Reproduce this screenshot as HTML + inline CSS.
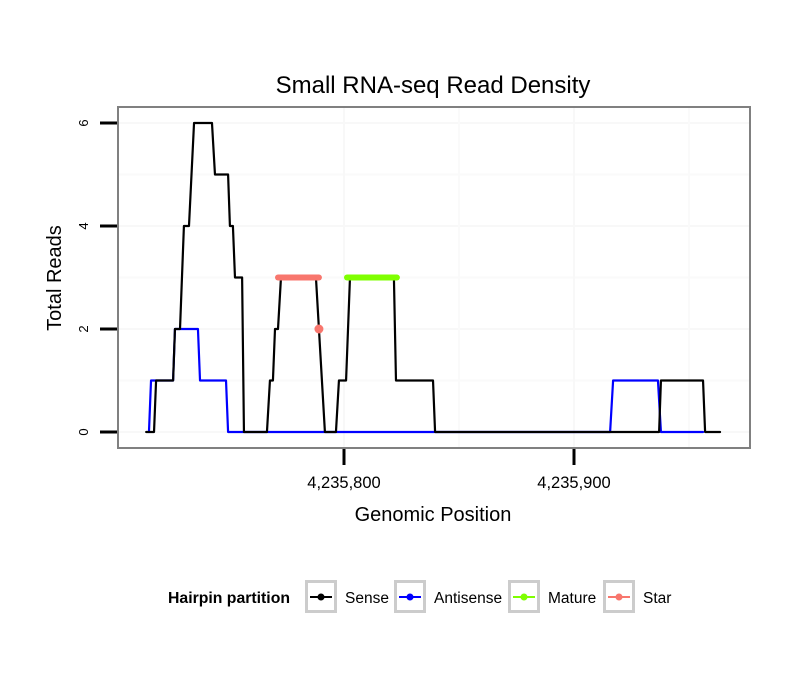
<!DOCTYPE html>
<html><head><meta charset="utf-8"><style>
body{margin:0;background:#fff}
svg text{font-family:"Liberation Sans",sans-serif}
</style></head><body>
<svg id="chart" width="810" height="690">
<text x="433" y="93" font-size="24" text-anchor="middle">Small RNA-seq Read Density</text>
<g id="grid"></g>
<g id="series"></g>
<rect x="118" y="107" width="632" height="341" fill="none" stroke="#808080" stroke-width="2"/>
<g id="axes"></g>
<text x="433" y="521" font-size="20" text-anchor="middle">Genomic Position</text>
<text transform="translate(61,278) rotate(-90)" font-size="20" text-anchor="middle">Total Reads</text>
<text x="168" y="603" font-size="15.8" font-weight="bold">Hairpin partition</text>
<g id="legend"></g>
</svg>
<script>
const B=4235800;
const senseX=[-86,-82.6,-81.7,-74.3,-73.5,-71.3,-69.6,-67.4,-65.2,-57.4,-56.1,-50.4,-49.6,-48.3,-47.4,-44.3,-43.5,-33.5,-32.2,-30.9,-30,-28.7,-27.4,-12.2,-8.3,-3.5,-2.2,0.9,2.6,21.7,22.6,38.7,39.6,137,137.8,156.1,157,163.5];
const senseY=[0,0,1,1,2,2,4,4,6,6,5,5,4,4,3,3,0,0,1,1,2,2,3,3,0,0,1,1,3,3,1,1,0,0,1,1,0,0];
const antiX=[-84.8,-83.9,-74.3,-73.5,-63.5,-62.6,-51.3,-50.4,115.7,117,136.5,137.8,156.1];
const antiY=[0,1,1,2,2,1,1,0,0,1,1,0,0];
const matureX=[1.3,23];
const matureY=[3,3];
const starX=[-28.7,-10.9];
const starY=[3,3];
const starPointX=[-10.9];
const starPointY=[2];
const yTicks=[0,2,4,6];
const xTicks=[100,200];
const xTickLabels=["4,235,800","4,235,900"];
const legendNames=["Sense","Antisense","Mature","Star"];
const legendColors=["#000","#0000ff","#7fff00","#f8766d"];
const sx=v=>344+v*2.3, sy=v=>432-v*51.5;
const NS="http://www.w3.org/2000/svg";
function mk(t,a,p){const e=document.createElementNS(NS,t);for(const k in a)e.setAttribute(k,a[k]);p.appendChild(e);return e;}
const grid=document.getElementById('grid'),ser=document.getElementById('series'),ax=document.getElementById('axes'),lg=document.getElementById('legend');
[1,3,5].forEach(v=>{const l=mk('line',{x1:118,x2:750,y1:sy(v),y2:sy(v),stroke:'#fafafa','stroke-width':2},grid);});
yTicks.forEach(v=>{const l=mk('line',{x1:118,x2:750,y1:sy(v),y2:sy(v),stroke:'#f8f8f8','stroke-width':2},grid);
const t=mk('line',{x1:100,x2:117,y1:sy(v),y2:sy(v),stroke:'#000','stroke-width':3},ax);
const tx=mk('text',{transform:`translate(88,${sy(v)}) rotate(-90)`,'font-size':13,'text-anchor':'middle'},ax);tx.textContent=v;});
[0,50,150].forEach(v=>{const l=mk('line',{y1:107,y2:448,x1:sx(v),x2:sx(v),stroke:'#fafafa','stroke-width':2},grid);});
xTicks.forEach((v,i)=>{const x=sx(v-100);const l=mk('line',{y1:107,y2:448,x1:x,x2:x,stroke:'#f8f8f8','stroke-width':2},grid);
const t=mk('line',{y1:449,y2:465,x1:x,x2:x,stroke:'#000','stroke-width':3},ax);
const tx=mk('text',{x:x,y:488,'font-size':16.5,'text-anchor':'middle'},ax);tx.textContent=xTickLabels[i];});
function line(X,Y,c,w,name){const p=mk('polyline',{points:X.map((x,i)=>sx(x)+','+sy(Y[i])).join(' '),fill:'none',stroke:c,'stroke-width':w,'stroke-linejoin':'round','stroke-linecap':'round'},ser);}
line(antiX,antiY,'#0000ff',2.2,'antisense-line');
line(senseX,senseY,'#000',2.2,'sense-line');
line(starX,starY,'#f8766d',6,'star-segment');
line(matureX,matureY,'#7fff00',6,'mature-segment');
starPointX.forEach((x,i)=>{const c=mk('circle',{cx:sx(x),cy:sy(starPointY[i]),r:4.5,fill:'#f8766d'},ser);});
const bx=[305,394,508,603];
legendNames.forEach((n,i)=>{const g=mk('g',{},lg);
mk('rect',{x:bx[i]+1.5,y:581.5,width:29,height:30,fill:'#fff',stroke:'#cccccc','stroke-width':3},g);
mk('line',{x1:bx[i]+5,x2:bx[i]+27,y1:597,y2:597,stroke:legendColors[i],'stroke-width':2},g);
mk('circle',{cx:bx[i]+16,cy:597,r:3.5,fill:legendColors[i]},g);
const t=mk('text',{x:bx[i]+40,y:603,'font-size':15.5},g);t.textContent=n;});
</script>
</body></html>
